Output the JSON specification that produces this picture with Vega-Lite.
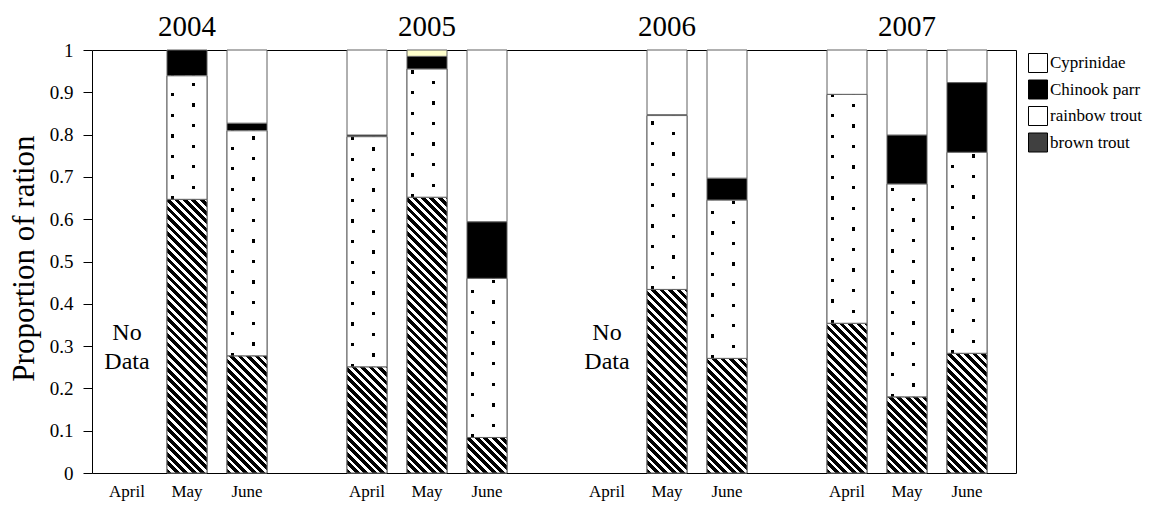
{
  "$schema": "https://vega.github.io/schema/vega-lite/v6.json",
  "autosize": {"type": "none"},
  "padding": {"left": 92, "top": 50, "right": 141, "bottom": 32},
  "width": 924,
  "height": 423,
  "background": "white",
  "config": {
    "font": "Liberation Serif",
    "view": {"stroke": "black", "strokeWidth": 1},
    "axis": {"labelFont": "Liberation Serif", "titleFont": "Liberation Serif"},
    "legend": {"labelFont": "Liberation Serif", "labelFontSize": 17, "labelColor": "black"},
    "text": {"font": "Liberation Serif"}
  },
  "params": [
    {"name": "stripeStops", "value": [
      {"offset":0,"color":"#000"},{"offset":0.01375,"color":"#000"},{"offset":0.01375,"color":"#fff"},{"offset":0.025,"color":"#fff"},
      {"offset":0.025,"color":"#000"},{"offset":0.03875,"color":"#000"},{"offset":0.03875,"color":"#fff"},{"offset":0.05,"color":"#fff"},
      {"offset":0.05,"color":"#000"},{"offset":0.06375,"color":"#000"},{"offset":0.06375,"color":"#fff"},{"offset":0.075,"color":"#fff"},
      {"offset":0.075,"color":"#000"},{"offset":0.08875,"color":"#000"},{"offset":0.08875,"color":"#fff"},{"offset":0.1,"color":"#fff"},
      {"offset":0.1,"color":"#000"},{"offset":0.11375,"color":"#000"},{"offset":0.11375,"color":"#fff"},{"offset":0.125,"color":"#fff"},
      {"offset":0.125,"color":"#000"},{"offset":0.13875,"color":"#000"},{"offset":0.13875,"color":"#fff"},{"offset":0.15,"color":"#fff"},
      {"offset":0.15,"color":"#000"},{"offset":0.16375,"color":"#000"},{"offset":0.16375,"color":"#fff"},{"offset":0.175,"color":"#fff"},
      {"offset":0.175,"color":"#000"},{"offset":0.18875,"color":"#000"},{"offset":0.18875,"color":"#fff"},{"offset":0.2,"color":"#fff"},
      {"offset":0.2,"color":"#000"},{"offset":0.21375,"color":"#000"},{"offset":0.21375,"color":"#fff"},{"offset":0.225,"color":"#fff"},
      {"offset":0.225,"color":"#000"},{"offset":0.23875,"color":"#000"},{"offset":0.23875,"color":"#fff"},{"offset":0.25,"color":"#fff"},
      {"offset":0.25,"color":"#000"},{"offset":0.26375,"color":"#000"},{"offset":0.26375,"color":"#fff"},{"offset":0.275,"color":"#fff"},
      {"offset":0.275,"color":"#000"},{"offset":0.28875,"color":"#000"},{"offset":0.28875,"color":"#fff"},{"offset":0.3,"color":"#fff"},
      {"offset":0.3,"color":"#000"},{"offset":0.31375,"color":"#000"},{"offset":0.31375,"color":"#fff"},{"offset":0.325,"color":"#fff"},
      {"offset":0.325,"color":"#000"},{"offset":0.33875,"color":"#000"},{"offset":0.33875,"color":"#fff"},{"offset":0.35,"color":"#fff"},
      {"offset":0.35,"color":"#000"},{"offset":0.36375,"color":"#000"},{"offset":0.36375,"color":"#fff"},{"offset":0.375,"color":"#fff"},
      {"offset":0.375,"color":"#000"},{"offset":0.38875,"color":"#000"},{"offset":0.38875,"color":"#fff"},{"offset":0.4,"color":"#fff"},
      {"offset":0.4,"color":"#000"},{"offset":0.41375,"color":"#000"},{"offset":0.41375,"color":"#fff"},{"offset":0.425,"color":"#fff"},
      {"offset":0.425,"color":"#000"},{"offset":0.43875,"color":"#000"},{"offset":0.43875,"color":"#fff"},{"offset":0.45,"color":"#fff"},
      {"offset":0.45,"color":"#000"},{"offset":0.46375,"color":"#000"},{"offset":0.46375,"color":"#fff"},{"offset":0.475,"color":"#fff"},
      {"offset":0.475,"color":"#000"},{"offset":0.48875,"color":"#000"},{"offset":0.48875,"color":"#fff"},{"offset":0.5,"color":"#fff"},
      {"offset":0.5,"color":"#000"},{"offset":0.51375,"color":"#000"},{"offset":0.51375,"color":"#fff"},{"offset":0.525,"color":"#fff"},
      {"offset":0.525,"color":"#000"},{"offset":0.53875,"color":"#000"},{"offset":0.53875,"color":"#fff"},{"offset":0.55,"color":"#fff"},
      {"offset":0.55,"color":"#000"},{"offset":0.56375,"color":"#000"},{"offset":0.56375,"color":"#fff"},{"offset":0.575,"color":"#fff"},
      {"offset":0.575,"color":"#000"},{"offset":0.58875,"color":"#000"},{"offset":0.58875,"color":"#fff"},{"offset":0.6,"color":"#fff"},
      {"offset":0.6,"color":"#000"},{"offset":0.61375,"color":"#000"},{"offset":0.61375,"color":"#fff"},{"offset":0.625,"color":"#fff"},
      {"offset":0.625,"color":"#000"},{"offset":0.63875,"color":"#000"},{"offset":0.63875,"color":"#fff"},{"offset":0.65,"color":"#fff"},
      {"offset":0.65,"color":"#000"},{"offset":0.66375,"color":"#000"},{"offset":0.66375,"color":"#fff"},{"offset":0.675,"color":"#fff"},
      {"offset":0.675,"color":"#000"},{"offset":0.68875,"color":"#000"},{"offset":0.68875,"color":"#fff"},{"offset":0.7,"color":"#fff"},
      {"offset":0.7,"color":"#000"},{"offset":0.71375,"color":"#000"},{"offset":0.71375,"color":"#fff"},{"offset":0.725,"color":"#fff"},
      {"offset":0.725,"color":"#000"},{"offset":0.73875,"color":"#000"},{"offset":0.73875,"color":"#fff"},{"offset":0.75,"color":"#fff"},
      {"offset":0.75,"color":"#000"},{"offset":0.76375,"color":"#000"},{"offset":0.76375,"color":"#fff"},{"offset":0.775,"color":"#fff"},
      {"offset":0.775,"color":"#000"},{"offset":0.78875,"color":"#000"},{"offset":0.78875,"color":"#fff"},{"offset":0.8,"color":"#fff"},
      {"offset":0.8,"color":"#000"},{"offset":0.81375,"color":"#000"},{"offset":0.81375,"color":"#fff"},{"offset":0.825,"color":"#fff"},
      {"offset":0.825,"color":"#000"},{"offset":0.83875,"color":"#000"},{"offset":0.83875,"color":"#fff"},{"offset":0.85,"color":"#fff"},
      {"offset":0.85,"color":"#000"},{"offset":0.86375,"color":"#000"},{"offset":0.86375,"color":"#fff"},{"offset":0.875,"color":"#fff"},
      {"offset":0.875,"color":"#000"},{"offset":0.88875,"color":"#000"},{"offset":0.88875,"color":"#fff"},{"offset":0.9,"color":"#fff"},
      {"offset":0.9,"color":"#000"},{"offset":0.91375,"color":"#000"},{"offset":0.91375,"color":"#fff"},{"offset":0.925,"color":"#fff"},
      {"offset":0.925,"color":"#000"},{"offset":0.93875,"color":"#000"},{"offset":0.93875,"color":"#fff"},{"offset":0.95,"color":"#fff"},
      {"offset":0.95,"color":"#000"},{"offset":0.96375,"color":"#000"},{"offset":0.96375,"color":"#fff"},{"offset":0.975,"color":"#fff"},
      {"offset":0.975,"color":"#000"},{"offset":0.98875,"color":"#000"},{"offset":0.98875,"color":"#fff"},{"offset":1,"color":"#fff"}
    ]},
    {"name": "rowStops", "value": [
      {"offset":0,"color":"rgba(255,255,255,0)"},{"offset":0.01335,"color":"rgba(255,255,255,0)"},{"offset":0.01335,"color":"#fff"},{"offset":0.041667,"color":"#fff"},
      {"offset":0.041667,"color":"rgba(255,255,255,0)"},{"offset":0.05502,"color":"rgba(255,255,255,0)"},{"offset":0.05502,"color":"#fff"},{"offset":0.083333,"color":"#fff"},
      {"offset":0.083333,"color":"rgba(255,255,255,0)"},{"offset":0.09668,"color":"rgba(255,255,255,0)"},{"offset":0.09668,"color":"#fff"},{"offset":0.125,"color":"#fff"},
      {"offset":0.125,"color":"rgba(255,255,255,0)"},{"offset":0.13835,"color":"rgba(255,255,255,0)"},{"offset":0.13835,"color":"#fff"},{"offset":0.166667,"color":"#fff"},
      {"offset":0.166667,"color":"rgba(255,255,255,0)"},{"offset":0.18002,"color":"rgba(255,255,255,0)"},{"offset":0.18002,"color":"#fff"},{"offset":0.208333,"color":"#fff"},
      {"offset":0.208333,"color":"rgba(255,255,255,0)"},{"offset":0.22168,"color":"rgba(255,255,255,0)"},{"offset":0.22168,"color":"#fff"},{"offset":0.25,"color":"#fff"},
      {"offset":0.25,"color":"rgba(255,255,255,0)"},{"offset":0.26335,"color":"rgba(255,255,255,0)"},{"offset":0.26335,"color":"#fff"},{"offset":0.291667,"color":"#fff"},
      {"offset":0.291667,"color":"rgba(255,255,255,0)"},{"offset":0.30502,"color":"rgba(255,255,255,0)"},{"offset":0.30502,"color":"#fff"},{"offset":0.333333,"color":"#fff"},
      {"offset":0.333333,"color":"rgba(255,255,255,0)"},{"offset":0.34668,"color":"rgba(255,255,255,0)"},{"offset":0.34668,"color":"#fff"},{"offset":0.375,"color":"#fff"},
      {"offset":0.375,"color":"rgba(255,255,255,0)"},{"offset":0.38835,"color":"rgba(255,255,255,0)"},{"offset":0.38835,"color":"#fff"},{"offset":0.416667,"color":"#fff"},
      {"offset":0.416667,"color":"rgba(255,255,255,0)"},{"offset":0.43002,"color":"rgba(255,255,255,0)"},{"offset":0.43002,"color":"#fff"},{"offset":0.458333,"color":"#fff"},
      {"offset":0.458333,"color":"rgba(255,255,255,0)"},{"offset":0.47168,"color":"rgba(255,255,255,0)"},{"offset":0.47168,"color":"#fff"},{"offset":0.5,"color":"#fff"},
      {"offset":0.5,"color":"rgba(255,255,255,0)"},{"offset":0.51335,"color":"rgba(255,255,255,0)"},{"offset":0.51335,"color":"#fff"},{"offset":0.541667,"color":"#fff"},
      {"offset":0.541667,"color":"rgba(255,255,255,0)"},{"offset":0.55502,"color":"rgba(255,255,255,0)"},{"offset":0.55502,"color":"#fff"},{"offset":0.583333,"color":"#fff"},
      {"offset":0.583333,"color":"rgba(255,255,255,0)"},{"offset":0.59668,"color":"rgba(255,255,255,0)"},{"offset":0.59668,"color":"#fff"},{"offset":0.625,"color":"#fff"},
      {"offset":0.625,"color":"rgba(255,255,255,0)"},{"offset":0.63835,"color":"rgba(255,255,255,0)"},{"offset":0.63835,"color":"#fff"},{"offset":0.666667,"color":"#fff"},
      {"offset":0.666667,"color":"rgba(255,255,255,0)"},{"offset":0.68002,"color":"rgba(255,255,255,0)"},{"offset":0.68002,"color":"#fff"},{"offset":0.708333,"color":"#fff"},
      {"offset":0.708333,"color":"rgba(255,255,255,0)"},{"offset":0.72168,"color":"rgba(255,255,255,0)"},{"offset":0.72168,"color":"#fff"},{"offset":0.75,"color":"#fff"},
      {"offset":0.75,"color":"rgba(255,255,255,0)"},{"offset":0.76335,"color":"rgba(255,255,255,0)"},{"offset":0.76335,"color":"#fff"},{"offset":0.791667,"color":"#fff"},
      {"offset":0.791667,"color":"rgba(255,255,255,0)"},{"offset":0.80502,"color":"rgba(255,255,255,0)"},{"offset":0.80502,"color":"#fff"},{"offset":0.833333,"color":"#fff"},
      {"offset":0.833333,"color":"rgba(255,255,255,0)"},{"offset":0.84668,"color":"rgba(255,255,255,0)"},{"offset":0.84668,"color":"#fff"},{"offset":0.875,"color":"#fff"},
      {"offset":0.875,"color":"rgba(255,255,255,0)"},{"offset":0.88835,"color":"rgba(255,255,255,0)"},{"offset":0.88835,"color":"#fff"},{"offset":0.916667,"color":"#fff"},
      {"offset":0.916667,"color":"rgba(255,255,255,0)"},{"offset":0.93002,"color":"rgba(255,255,255,0)"},{"offset":0.93002,"color":"#fff"},{"offset":0.958333,"color":"#fff"},
      {"offset":0.958333,"color":"rgba(255,255,255,0)"},{"offset":0.97168,"color":"rgba(255,255,255,0)"},{"offset":0.97168,"color":"#fff"},{"offset":1,"color":"#fff"}
    ]},
    {"name": "diagStops", "value": [
      {"offset":0,"color":"rgba(255,255,255,0)"},{"offset":0.0333,"color":"rgba(255,255,255,0)"},{"offset":0.0333,"color":"#fff"},{"offset":0.0769,"color":"#fff"},
      {"offset":0.0769,"color":"rgba(255,255,255,0)"},{"offset":0.1103,"color":"rgba(255,255,255,0)"},{"offset":0.1103,"color":"#fff"},{"offset":0.1538,"color":"#fff"},
      {"offset":0.1538,"color":"rgba(255,255,255,0)"},{"offset":0.1872,"color":"rgba(255,255,255,0)"},{"offset":0.1872,"color":"#fff"},{"offset":0.2308,"color":"#fff"},
      {"offset":0.2308,"color":"rgba(255,255,255,0)"},{"offset":0.2641,"color":"rgba(255,255,255,0)"},{"offset":0.2641,"color":"#fff"},{"offset":0.3077,"color":"#fff"},
      {"offset":0.3077,"color":"rgba(255,255,255,0)"},{"offset":0.341,"color":"rgba(255,255,255,0)"},{"offset":0.341,"color":"#fff"},{"offset":0.3846,"color":"#fff"},
      {"offset":0.3846,"color":"rgba(255,255,255,0)"},{"offset":0.4179,"color":"rgba(255,255,255,0)"},{"offset":0.4179,"color":"#fff"},{"offset":0.4615,"color":"#fff"},
      {"offset":0.4615,"color":"rgba(255,255,255,0)"},{"offset":0.4949,"color":"rgba(255,255,255,0)"},{"offset":0.4949,"color":"#fff"},{"offset":0.5385,"color":"#fff"},
      {"offset":0.5385,"color":"rgba(255,255,255,0)"},{"offset":0.5718,"color":"rgba(255,255,255,0)"},{"offset":0.5718,"color":"#fff"},{"offset":0.6154,"color":"#fff"},
      {"offset":0.6154,"color":"rgba(255,255,255,0)"},{"offset":0.6487,"color":"rgba(255,255,255,0)"},{"offset":0.6487,"color":"#fff"},{"offset":0.6923,"color":"#fff"},
      {"offset":0.6923,"color":"rgba(255,255,255,0)"},{"offset":0.7256,"color":"rgba(255,255,255,0)"},{"offset":0.7256,"color":"#fff"},{"offset":0.7692,"color":"#fff"},
      {"offset":0.7692,"color":"rgba(255,255,255,0)"},{"offset":0.8026,"color":"rgba(255,255,255,0)"},{"offset":0.8026,"color":"#fff"},{"offset":0.8462,"color":"#fff"},
      {"offset":0.8462,"color":"rgba(255,255,255,0)"},{"offset":0.8795,"color":"rgba(255,255,255,0)"},{"offset":0.8795,"color":"#fff"},{"offset":0.9231,"color":"#fff"},
      {"offset":0.9231,"color":"rgba(255,255,255,0)"},{"offset":0.9564,"color":"rgba(255,255,255,0)"},{"offset":0.9564,"color":"#fff"},{"offset":1,"color":"#fff"}
    ]}
  ],
  "datasets": {
    "bars": [
      {"key": "2004-May", "species": "brown trout", "v": 0.647},
      {"key": "2004-May", "species": "rainbow trout", "v": 0.292},
      {"key": "2004-May", "species": "Chinook parr", "v": 0.061},
      {"key": "2004-June", "species": "brown trout", "v": 0.277},
      {"key": "2004-June", "species": "rainbow trout", "v": 0.532},
      {"key": "2004-June", "species": "Chinook parr", "v": 0.018},
      {"key": "2004-June", "species": "Cyprinidae", "v": 0.173},
      {"key": "2005-April", "species": "brown trout", "v": 0.251},
      {"key": "2005-April", "species": "rainbow trout", "v": 0.544},
      {"key": "2005-April", "species": "Chinook parr", "v": 0.004},
      {"key": "2005-April", "species": "Cyprinidae", "v": 0.201},
      {"key": "2005-May", "species": "brown trout", "v": 0.652},
      {"key": "2005-May", "species": "rainbow trout", "v": 0.303},
      {"key": "2005-May", "species": "Chinook parr", "v": 0.030},
      {"key": "2005-May", "species": "other", "v": 0.015},
      {"key": "2005-June", "species": "brown trout", "v": 0.084},
      {"key": "2005-June", "species": "rainbow trout", "v": 0.376},
      {"key": "2005-June", "species": "Chinook parr", "v": 0.134},
      {"key": "2005-June", "species": "Cyprinidae", "v": 0.406},
      {"key": "2006-May", "species": "brown trout", "v": 0.434},
      {"key": "2006-May", "species": "rainbow trout", "v": 0.411},
      {"key": "2006-May", "species": "Chinook parr", "v": 0.002},
      {"key": "2006-May", "species": "Cyprinidae", "v": 0.153},
      {"key": "2006-June", "species": "brown trout", "v": 0.271},
      {"key": "2006-June", "species": "rainbow trout", "v": 0.374},
      {"key": "2006-June", "species": "Chinook parr", "v": 0.052},
      {"key": "2006-June", "species": "Cyprinidae", "v": 0.303},
      {"key": "2007-April", "species": "brown trout", "v": 0.354},
      {"key": "2007-April", "species": "rainbow trout", "v": 0.541},
      {"key": "2007-April", "species": "Cyprinidae", "v": 0.105},
      {"key": "2007-May", "species": "brown trout", "v": 0.180},
      {"key": "2007-May", "species": "rainbow trout", "v": 0.503},
      {"key": "2007-May", "species": "Chinook parr", "v": 0.116},
      {"key": "2007-May", "species": "Cyprinidae", "v": 0.201},
      {"key": "2007-June", "species": "brown trout", "v": 0.283},
      {"key": "2007-June", "species": "rainbow trout", "v": 0.475},
      {"key": "2007-June", "species": "Chinook parr", "v": 0.165},
      {"key": "2007-June", "species": "Cyprinidae", "v": 0.077}
    ],
    "years": [
      {"key": "2004-May", "year": "2004"},
      {"key": "2005-May", "year": "2005"},
      {"key": "2006-May", "year": "2006"},
      {"key": "2007-May", "year": "2007"}
    ],
    "nodata": [
      {"key": "2004-April", "note": "No Data"},
      {"key": "2006-April", "note": "No Data"}
    ]
  },
  "encoding": {
    "x": {
      "field": "key",
      "type": "nominal",
      "sort": null,
      "title": null,
      "scale": {
        "domain": ["2004-April", "2004-May", "2004-June", "g1", "2005-April", "2005-May", "2005-June", "g2", "2006-April", "2006-May", "2006-June", "g3", "2007-April", "2007-May", "2007-June"],
        "paddingInner": 0.3333,
        "paddingOuter": 0.3667,
        "align": 0.341
      },
      "axis": {
        "labelExpr": "length(datum.label) > 5 ? substring(datum.label, 5) : ''",
        "labelAngle": 0,
        "labelFont": "Liberation Serif",
        "labelFontSize": 17,
        "labelColor": "black",
        "labelPadding": 10,
        "ticks": false,
        "domain": false,
        "grid": false
      }
    }
  },
  "layer": [
    {
      "data": {"name": "bars"},
      "transform": [{"stack": "v", "groupby": ["key"], "as": ["v0", "v1"]}],
      "encoding": {
        "y": {
          "field": "v1",
          "type": "quantitative",
          "scale": {"domain": [0, 1], "nice": false},
          "axis": {
            "title": "Proportion of ration",
            "values": [0, 0.1, 0.2, 0.3, 0.4, 0.5, 0.6, 0.7, 0.8, 0.9, 1],
            "format": ".1~f",
            "grid": false,
            "domain": false,
            "tickColor": "black",
            "tickSize": 9,
            "labelFont": "Liberation Serif",
            "labelFontSize": 19,
            "labelColor": "black",
            "labelPadding": 10,
            "titleFont": "Liberation Serif",
            "titleFontSize": 31,
            "titleFontWeight": "normal",
            "titleColor": "black",
            "titleAngle": 270,
            "titleBaseline": "alphabetic",
            "titleAlign": "center",
            "titleX": -59,
            "titleY": 208
          }
        },
        "y2": {"field": "v0"}
      },
      "layer": [
        {
          "mark": {"type": "bar", "stroke": "#606060", "strokeWidth": 1},
          "encoding": {
            "fill": {
              "field": "species",
              "type": "nominal",
              "scale": {
                "domain": ["Cyprinidae", "Chinook parr", "rainbow trout", "brown trout", "other"],
                "range": ["#ffffff", "#000000", "#ffffff", "#404040", "#ffffcc"]
              },
              "legend": {
                "values": ["Cyprinidae", "Chinook parr", "rainbow trout", "brown trout"],
                "title": null,
                "orient": "right",
                "offset": 9,
                "padding": 3,
                "symbolType": "square",
                "symbolSize": 361,
                "symbolStrokeColor": "black",
                "symbolStrokeWidth": 1,
                "symbolOpacity": 1,
                "labelFont": "Liberation Serif",
                "labelFontSize": 17,
                "labelColor": "black",
                "labelOffset": 2,
                "rowPadding": 2.5
              }
            }
          }
        },
        {
          "transform": [{"filter": "datum.species === 'brown trout'"}],
          "mark": {
            "type": "bar",
            "stroke": "#606060",
            "strokeWidth": 1,
            "fill": {"expr": "{gradient: 'linear', x1: 0, y1: 1, x2: 339.4*bandwidth('x')/(pow(bandwidth('x'),2)+pow(datum.v*(scale('y',0)-scale('y',1)),2)), y2: 1-339.4*datum.v*(scale('y',0)-scale('y',1))/(pow(bandwidth('x'),2)+pow(datum.v*(scale('y',0)-scale('y',1)),2)), stops: stripeStops}"}
          }
        },
        {
          "transform": [{"filter": "datum.species === 'rainbow trout'"}],
          "mark": {
            "type": "bar",
            "strokeWidth": 0,
            "fill": {
              "gradient": "linear",
              "x1": 0, "y1": 0, "x2": 1, "y2": 0,
              "stops": [
                {"offset": 0, "color": "#fff"}, {"offset": 0.0975, "color": "#fff"},
                {"offset": 0.0975, "color": "#000"}, {"offset": 0.185, "color": "#000"},
                {"offset": 0.185, "color": "#fff"}, {"offset": 0.615, "color": "#fff"},
                {"offset": 0.615, "color": "#000"}, {"offset": 0.7025, "color": "#000"},
                {"offset": 0.7025, "color": "#fff"}, {"offset": 1, "color": "#fff"}
              ]
            }
          }
        },
        {
          "transform": [{"filter": "datum.species === 'rainbow trout'"}],
          "mark": {
            "type": "bar",
            "strokeWidth": 0,
            "fill": {"expr": "{gradient: 'linear', x1: 0, y1: 1, x2: 0, y2: 1-247.2/(datum.v*(scale('y',0)-scale('y',1))), stops: rowStops}"}
          }
        },
        {
          "transform": [{"filter": "datum.species === 'rainbow trout'"}],
          "mark": {
            "type": "bar",
            "stroke": "#606060",
            "strokeWidth": 1,
            "fill": {"expr": "{gradient: 'linear', x1: 0, y1: 1, x2: 107.3*bandwidth('x')/(0.2*pow(bandwidth('x'),2)+0.8*pow(datum.v*(scale('y',0)-scale('y',1)),2)), y2: 1-214.7*datum.v*(scale('y',0)-scale('y',1))/(0.2*pow(bandwidth('x'),2)+0.8*pow(datum.v*(scale('y',0)-scale('y',1)),2)), stops: diagStops}"}
          }
        }
      ]
    },
    {
      "data": {"name": "years"},
      "mark": {"type": "text", "font": "Liberation Serif", "fontSize": 29, "color": "black", "align": "center", "baseline": "alphabetic", "dy": -14},
      "encoding": {
        "y": {"datum": 1, "type": "quantitative"},
        "text": {"field": "year"}
      }
    },
    {
      "data": {"name": "nodata"},
      "mark": {"type": "text", "font": "Liberation Serif", "fontSize": 24, "color": "black", "align": "center", "baseline": "alphabetic", "lineBreak": " ", "lineHeight": 29},
      "encoding": {
        "y": {"datum": 0.314, "type": "quantitative"},
        "text": {"field": "note"}
      }
    }
  ]
}
